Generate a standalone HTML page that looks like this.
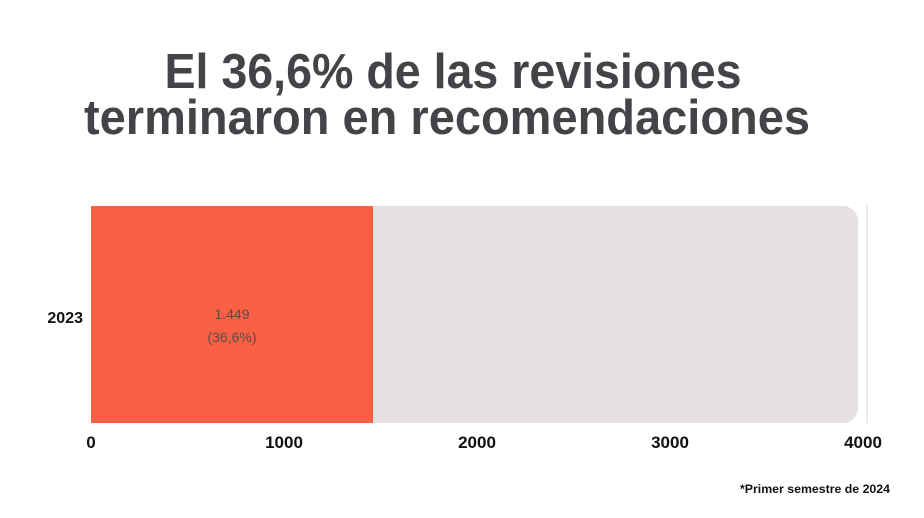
<!DOCTYPE html>
<html><head><meta charset="utf-8"><style>
html,body{margin:0;padding:0;background:#fff;width:924px;height:518px;overflow:hidden}
</style></head><body>
<svg width="924" height="518" xmlns="http://www.w3.org/2000/svg" font-family="Liberation Sans, sans-serif">
<text x="453" y="88" text-anchor="middle" font-size="49" font-weight="bold" fill="#444348" textLength="577" lengthAdjust="spacingAndGlyphs">El 36,6% de las revisiones</text>
<text x="447" y="134" text-anchor="middle" font-size="49" font-weight="bold" fill="#444348" textLength="726" lengthAdjust="spacingAndGlyphs">terminaron en recomendaciones</text>
<line x1="867" y1="205" x2="867" y2="423" stroke="#e8e4e4" stroke-width="1.5"/>
<path d="M91 206 H843 A15 15 0 0 1 858 221 V408 A15 15 0 0 1 843 423 H91 Z" fill="#e6e1e1"/>
<rect x="91" y="206" width="282" height="217" fill="#fb6045"/>
<text x="232" y="319" text-anchor="middle" font-size="14" fill="#5a4a48">1.449</text>
<text x="232" y="342" text-anchor="middle" font-size="14" fill="#5a4a48">(36,6%)</text>
<text x="83" y="323" text-anchor="end" font-size="16" font-weight="bold" fill="#111">2023</text>
<g font-size="17" font-weight="bold" fill="#111" text-anchor="middle">
<text x="91" y="448">0</text>
<text x="284" y="448">1000</text>
<text x="477" y="448">2000</text>
<text x="670" y="448">3000</text>
<text x="863" y="448">4000</text>
</g>
<text x="890" y="493" text-anchor="end" font-size="12" font-weight="bold" fill="#111" textLength="150" lengthAdjust="spacingAndGlyphs">*Primer semestre de 2024</text>
</svg>
</body></html>
